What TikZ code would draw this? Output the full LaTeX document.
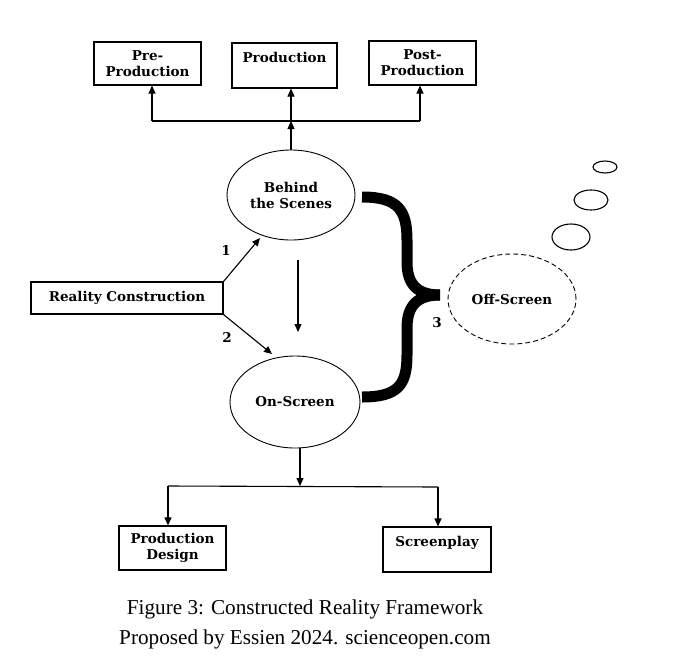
\documentclass[tikz,border=0pt]{standalone}
\usepackage{fontspec}
\setmainfont{Liberation Serif}
\newfontfamily\boxfont{DejaVu Serif}
\usetikzlibrary{arrows.meta,shapes.geometric}
\begin{document}
\begin{tikzpicture}[x=1pt,y=-1pt,
  lbl/.style={font=\boxfont\bfseries\fontsize{13.5}{16}\selectfont, align=center},
  box/.style={lbl, draw, line width=1.1pt, inner sep=0pt},
  oval/.style={lbl, draw, ellipse, line width=0.9pt, inner sep=0pt},
  arr/.style={line width=1.1pt, -{Triangle[length=8pt,width=7pt]}},
  ln/.style={line width=1.1pt},
  bubble/.style={draw, ellipse, line width=1.1pt, inner sep=0pt},
  captext/.style={font=\fontsize{21.2}{24}\selectfont}
]
\useasboundingbox (0,0) rectangle (680,670);
% top boxes
\node[box, minimum width=107, minimum height=43] (pre) at (147.5,63.5) {Pre-\\Production};
\node[box, minimum width=105, minimum height=45] (prod) at (284.5,65.5) {Production\\~};
\node[box, minimum width=107, minimum height=44] (post) at (422.5,63) {Post-\\Production};
% ellipses
\node[oval, minimum width=128, minimum height=90] (bts) at (291,195) {Behind\\the Scenes};
\node[oval, minimum width=130, minimum height=92] (ons) at (295,402) {On-Screen};
\node[oval, dashed, dash pattern=on 5pt off 3pt, minimum width=128, minimum height=90] (off) at (512,299) {Off-Screen};
% reality construction
\node[box, minimum width=192, minimum height=32] (rc) at (127,298) {Reality Construction};
% bottom boxes
\node[box, minimum width=107, minimum height=44] (pd) at (172.5,548) {Production\\Design};
\node[box, minimum width=108, minimum height=45] (sp) at (437,549.5) {Screenplay\\~};
% junctions
\coordinate (jt) at (291,121);
\coordinate (jl) at (152,121);
\coordinate (jr) at (420,121);
\coordinate (jb) at (300,486);
\coordinate (jbl) at (168,486);
\coordinate (jbr) at (438,487);
\coordinate (e1) at (260,238);
\coordinate (e2) at (272,354);
% top tree
\draw[arr] (bts.north -| jt) -- (jt);
\draw[arr] (jt) -- (jt |- prod.south);
\draw[ln] (jl) -- (jr);
\draw[arr] (jl) -- (jl |- pre.south);
\draw[arr] (jr) -- (jr |- post.south);
% reality arrows
\draw[arr] (rc.north east) -- (e1);
\draw[arr] (rc.south east) -- (e2);
\node[lbl] (n1) at (226,250) {1};
\node[lbl] (n2) at (227,337) {2};
% middle down arrow
\coordinate (ma) at (298,260);
\coordinate (mb) at (298,332);
\draw[arr] (ma) -- (mb);
% bottom tree
\draw[arr] (ons.south -| jb) -- (jb);
\draw[ln] (jbl) -- (jbr);
\draw[arr] (jbl) -- (jbl |- pd.north);
\draw[arr] (jbr) -- (jbr |- sp.north);
% brace
\draw[line width=11pt] (362,197) .. controls (398,197) and (407,210) .. (407,240)
  -- (407,262) .. controls (407,285) and (418,295) .. (440,295);
\draw[line width=11pt] (440,295) .. controls (418,295) and (407,305) .. (407,328)
  -- (407,355) .. controls (407,385) and (398,397) .. (362,397);
\node[lbl] (n3) at (437,323) {3};
% thought bubbles
\node[bubble, minimum width=38, minimum height=26] (b1) at (571,237) {};
\node[bubble, minimum width=34, minimum height=20] (b2) at (591,200) {};
\node[bubble, minimum width=24, minimum height=12] (b3) at (605,167) {};
% caption
\node[captext] (c1) at (305,609) {Figure 3: Constructed Reality Framework};
\node[captext] (c2) at (305,639) {Proposed by Essien 2024. scienceopen.com};
\end{tikzpicture}
\end{document}
